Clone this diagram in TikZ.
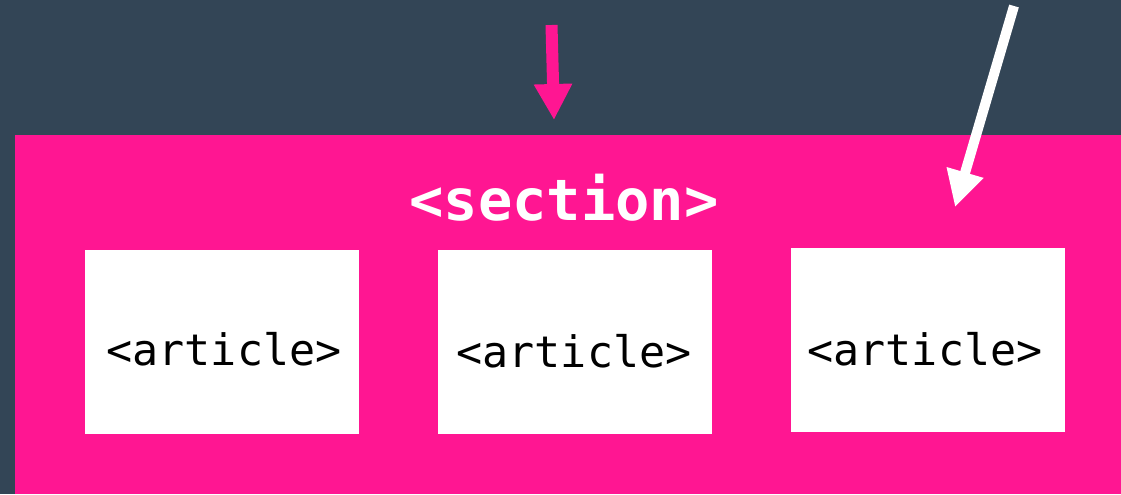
\documentclass[tikz,border=0pt]{standalone}
\usepackage{fontspec}
\newfontfamily\monofont{DejaVu Sans Mono}
\usetikzlibrary{arrows.meta}
\definecolor{bg}{RGB}{51,69,86}
\definecolor{hotpink}{RGB}{255,22,146}
\tikzset{
  articlebox/.style={fill=white, draw=none, minimum width=205.5pt, minimum height=137.5pt, inner sep=0pt},
  articletext/.style={font=\monofont\fontsize{32.5}{36}\selectfont, text=black},
  bigarrow/.style={line width=9pt, -{Triangle[width=27pt,length=27pt]}}
}
\begin{document}
\begin{tikzpicture}[x=0.75pt,y=-0.75pt]
\fill[bg] (0,0) rectangle (1121,494);
\useasboundingbox (0,0) rectangle (1121,494);
\node[fill=hotpink, minimum width=829.5pt, minimum height=269.25pt, inner sep=0pt, anchor=north west] (section) at (15,135) {};
\node[text=white, font=\monofont\bfseries\fontsize{42.8}{48}\selectfont] (sectionlabel) at (564,198) {<section>};
\node[articlebox] (a1) at (222,342) {};
\node[articlebox] (a2) at (574.5,342) {};
\node[articlebox] (a3) at (927.5,340) {};
\node[articletext] (t1) at (224,349) {<article>};
\node[articletext] (t2) at (574,351) {<article>};
\node[articletext] (t3) at (925,349) {<article>};
\coordinate (p1) at (551.5,25);
\coordinate (p2) at (554,120);
\coordinate (w1) at (1014,6);
\coordinate (w2) at (955,207);
\draw[bigarrow, draw=hotpink, fill=hotpink] (p1) -- (p2);
\draw[bigarrow, draw=white, fill=white, line width=7.5pt] (w1) -- (w2);
\end{tikzpicture}
\end{document}
